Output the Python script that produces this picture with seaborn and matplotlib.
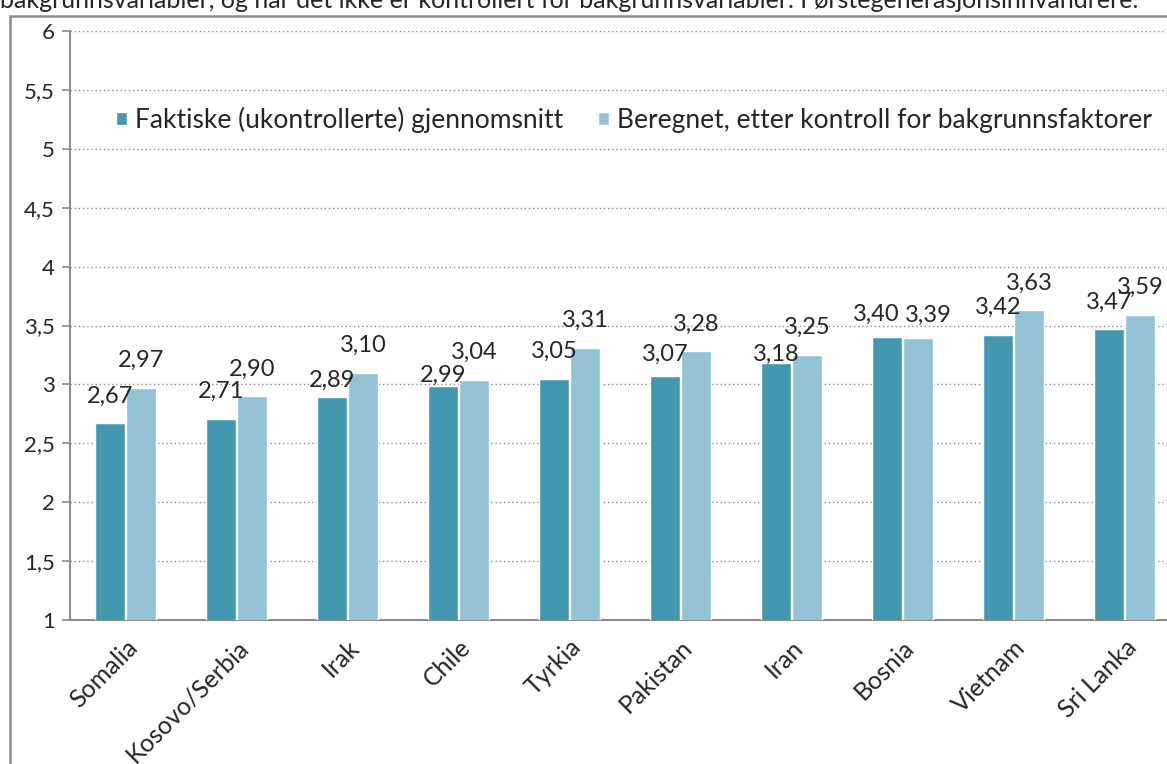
import pandas as pd
import matplotlib
matplotlib.use("Agg")
import matplotlib.pyplot as plt
import matplotlib.ticker as mticker
from matplotlib.patches import Rectangle
import seaborn as sns
import numpy as np

# data
countries = ["Somalia", "Kosovo/Serbia", "Irak", "Chile", "Tyrkia",
             "Pakistan", "Iran", "Bosnia", "Vietnam", "Sri Lanka"]
faktiske = [2.67, 2.71, 2.89, 2.99, 3.05, 3.07, 3.18, 3.40, 3.42, 3.47]
beregnet = [2.97, 2.90, 3.10, 3.04, 3.31, 3.28, 3.25, 3.39, 3.63, 3.59]
series_names = ["Faktiske (ukontrollerte) gjennomsnitt",
                "Beregnet, etter kontroll for bakgrunnsfaktorer"]
caption = ("bakgrunnsvariabler, og når det ikke er kontrollert for "
           "bakgrunnsvariabler. Førstegenerasjonsinnvandrere.")

# label nudges (pixels) where the original chart moved labels out of the way
nudge_dark = {"Irak": (0, -10), "Chile": (0, -17), "Pakistan": (0, -5),
              "Iran": (0, -18), "Bosnia": (-11, -4)}
nudge_light = {"Bosnia": (10, -4)}

df = pd.DataFrame({
    "Land": countries * 2,
    "Verdi": faktiske + beregnet,
    "Serie": [series_names[0]] * len(countries) + [series_names[1]] * len(countries),
})

sns.set_style("white")
plt.rcParams["font.family"] = ["Lato", "DejaVu Sans"]

fig = plt.figure(figsize=(11.67, 7.64), dpi=100)
ax = fig.add_axes([70 / 1167, 1 - 620 / 764, 1110 / 1167, 589 / 764])

palette = {series_names[0]: "#4398B0", series_names[1]: "#93C3D5"}
sns.barplot(data=df, x="Land", y="Verdi", hue="Serie", palette=palette,
            width=0.56, gap=0.06, edgecolor="white", linewidth=1,
            saturation=1, ax=ax, zorder=3)

# value labels with comma decimals
px = 0.72  # points per pixel at 100 dpi
for cont, vals, nudges in zip(ax.containers, [faktiske, beregnet],
                              [nudge_dark, nudge_light]):
    for bar, v, land in zip(cont, vals, countries):
        dx, dy = nudges.get(land, (0, 0))
        ax.annotate(f"{v:.2f}".replace(".", ","),
                    (bar.get_x() + bar.get_width() / 2, bar.get_height()),
                    xytext=(dx * px, 12 + dy * px), textcoords="offset points",
                    ha="center", va="bottom", fontsize=17, zorder=6)

ax.set_ylim(1, 6)
ax.set_xlim(-0.5, 9.5)
ax.yaxis.set_major_locator(mticker.MultipleLocator(0.5))
ax.yaxis.set_major_formatter(mticker.FuncFormatter(
    lambda v, p: f"{v:g}".replace(".", ",")))
ax.grid(axis="y", linestyle=(0, (1, 2)), color="#8c8c8c", linewidth=1, zorder=0)
ax.set_axisbelow(True)

# x ticks: labels at centres, tick marks at category boundaries
ax.set_xticks(range(len(countries)))
ax.set_xticklabels(countries, rotation=45, ha="right", rotation_mode="anchor")
ax.xaxis.set_minor_locator(mticker.FixedLocator(np.arange(-0.5, 10, 1)))
ax.tick_params(axis="x", which="major", length=0, labelsize=18, pad=11)
ax.tick_params(axis="x", which="minor", length=8, color="#8c8c8c", width=1.2,
               direction="out")
ax.tick_params(axis="y", length=6, color="#8c8c8c", width=1.2, labelsize=16,
               direction="out", left=True, pad=5)

for side in ["top", "right"]:
    ax.spines[side].set_visible(False)
for side in ["left", "bottom"]:
    ax.spines[side].set_color("#8c8c8c")
    ax.spines[side].set_linewidth(1.5)

ax.set_xlabel("")
ax.set_ylabel("")

leg = ax.legend(loc="center", bbox_to_anchor=(0.508, 0.849), ncol=2,
                fontsize=19, frameon=False,
                handlelength=0.42, handleheight=0.42,
                handletextpad=0.3, columnspacing=1.3, borderpad=0.2)
leg.set_zorder(5)

# outer chart frame and cut-off caption line
fig.patches.append(Rectangle((10 / 1167, -0.1), 1.2, 1.1 - 16 / 764,
                             transform=fig.transFigure, fill=False,
                             edgecolor="#8c8c8c", linewidth=1.8))
fig.text(0.0, 1 - 8 / 764, caption, fontsize=18, va="baseline", ha="left")

fig.savefig("out.png", dpi=100)
